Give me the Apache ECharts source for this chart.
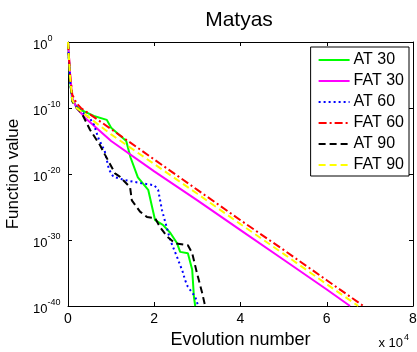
<!DOCTYPE html>
<html>
<head>
<meta charset="utf-8">
<style>
  html, body { margin: 0; padding: 0; background: #fff; }
  #chart { width: 417px; height: 352px; }
</style>
<script src="https://cdn.jsdelivr.net/npm/echarts@6/dist/echarts.min.js"></script>
</head>
<body>
<div id="chart"></div>
<script>
// x = evolution number, e = log10 of function value (y axis is drawn in decades)
const at30X = [0, 500, 1000, 2000, 3000, 6000, 9000, 10000, 13500, 14500, 16200, 18600, 19500, 20200, 22000, 23700, 25300, 26000, 27800, 28800, 29200, 29500];
const at30E = [0, -6, -8.8, -9.8, -10.3, -11.2, -11.8, -13, -15, -17.5, -20.5, -22.4, -25, -27, -27.7, -28.9, -30.5, -31.8, -32, -34.5, -38.6, -40];

const fat30X = [0, 500, 1000, 2000, 4000, 10000, 20000, 30000, 40000, 50000, 60000, 65400];
const fat30E = [0, -5, -8.5, -10, -11.5, -15, -19.6, -24, -28.5, -33, -37.5, -40];

const at60X = [0, 500, 1000, 2000, 3000, 5000, 6000, 7000, 8500, 9500, 10500, 13000, 17000, 20000, 20900, 21800, 23700, 25300, 26700, 27100, 27800, 29500, 30200];
const at60E = [0, -6, -8.8, -9.8, -10.5, -11.5, -12.5, -14.5, -16.5, -19.3, -20.4, -20.9, -21.4, -21.7, -22.4, -25.5, -30, -32.6, -35, -36, -37.1, -38.6, -40];

const fat60X = [0, 500, 1000, 2000, 3000, 10000, 20000, 30000, 40000, 50000, 60000, 68500];
const fat60E = [0, -5, -8, -9.3, -10, -13.2, -17.8, -22.4, -27, -31.5, -36.1, -40];

const at90X = [0, 500, 1000, 2000, 3200, 5100, 7400, 8600, 10900, 12000, 14400, 14800, 16700, 18300, 20200, 21300, 23000, 24800, 27800, 28800, 29900, 31100, 31800];
const at90E = [0, -6, -9, -10, -10.8, -13.3, -15.6, -17.1, -19.9, -20.4, -22, -24, -25.7, -26.5, -26.7, -28, -29.5, -30.5, -30.8, -32, -35, -38, -40];

const fat90X = [0, 500, 1000, 2000, 4000, 10000, 20000, 30000, 40000, 50000, 60000, 67300];
const fat90E = [0, -5.5, -8.8, -10, -11, -14, -18.5, -23, -27.6, -32.1, -36.7, -40];

const seriesNames = ['AT 30', 'FAT 30', 'AT 60', 'FAT 60', 'AT 90', 'FAT 90'];
const xTicks = ['0', '2', '4', '6', '8'];

const toData = (xs, es) => xs.map((x, i) => [x, es[i]]);

const chart = echarts.init(document.getElementById('chart'), null, { renderer: 'canvas' });

const font = 'Arial, "Liberation Sans", Helvetica, sans-serif';

function lineSeries(name, xs, es, color, type) {
  return {
    name: name,
    type: 'line',
    data: toData(xs, es),
    symbol: 'none',
    silent: true,
    animation: false,
    clip: true,
    lineStyle: { color: color, width: 2, type: type },
    itemStyle: { color: color }
  };
}

const labelRich = {
  b: { fontSize: 13, fontFamily: font, color: '#000', padding: [6, 0, 0, 0] },
  s: { fontSize: 9, fontFamily: font, color: '#000', padding: [0, 0, 6, 0] }
};

const frameAxis = {
  axisLine: { onZero: false, lineStyle: { color: '#000', width: 1 } },
  axisTick: { inside: true, length: 4, lineStyle: { color: '#000' } },
  splitLine: { show: false }
};

chart.setOption({
  backgroundColor: '#fff',
  animation: false,
  textStyle: { fontFamily: font },
  grid: { left: 68, right: 4, top: 42, bottom: 46, containLabel: false, outerBoundsMode: 'none' },
  legend: {
    orient: 'vertical',
    right: 8,
    top: 47,
    itemWidth: 31,
    itemHeight: 12,
    itemGap: 5,
    padding: [5, 5, 3, 7],
    borderColor: '#000',
    borderWidth: 1,
    backgroundColor: '#fff',
    itemStyle: { opacity: 0, borderWidth: 0 },
    textStyle: { fontSize: 16, color: '#000', fontFamily: font, padding: [0, 0, 0, -1] },
    data: seriesNames
  },
  xAxis: [Object.assign({
    type: 'value',
    min: 0,
    max: 80000,
    interval: 20000,
    name: 'Evolution number',
    nameLocation: 'middle',
    nameGap: 20,
    nameTextStyle: { fontSize: 18, color: '#000', fontFamily: font },
    axisLabel: {
      margin: 6,
      fontSize: 14,
      color: '#000',
      fontFamily: font,
      formatter: (v) => xTicks[v / 20000]
    }
  }, frameAxis), Object.assign({
    type: 'value',
    position: 'top',
    min: 0,
    max: 80000,
    interval: 20000,
    axisLabel: { show: false }
  }, frameAxis)],
  yAxis: [Object.assign({
    type: 'value',
    min: -40,
    max: 0,
    interval: 10,
    name: 'Function value',
    nameLocation: 'middle',
    nameGap: 40,
    nameTextStyle: { fontSize: 17, color: '#000', fontFamily: font },
    axisLabel: {
      margin: 35,
      align: 'left',
      formatter: (v) => '{b|10}{s|' + v + '}',
      rich: labelRich
    }
  }, frameAxis), Object.assign({
    type: 'value',
    position: 'right',
    min: -40,
    max: 0,
    interval: 10,
    axisLabel: { show: false }
  }, frameAxis)],
  graphic: [{
    type: 'text',
    x: 239,
    y: 10,
    style: {
      text: 'Matyas',
      fontSize: 21,
      fontFamily: font,
      fill: '#000',
      align: 'center'
    }
  }, {
    type: 'text',
    right: 8,
    bottom: 2,
    style: {
      text: '{a|x 10}{s|4}',
      rich: {
        a: { fontSize: 13, fontFamily: font, fill: '#000', padding: [5, 0, 0, 0] },
        s: { fontSize: 9, fontFamily: font, fill: '#000', padding: [0, 0, 6, 1] }
      }
    }
  }],
  series: [
    lineSeries('AT 30', at30X, at30E, '#00ff00', 'solid'),
    lineSeries('FAT 30', fat30X, fat30E, '#ff00ff', 'solid'),
    lineSeries('AT 60', at60X, at60E, '#0000ff', [2, 3]),
    lineSeries('FAT 60', fat60X, fat60E, '#ff0000', [8, 3, 2, 3]),
    lineSeries('AT 90', at90X, at90E, '#000000', [7, 4]),
    lineSeries('FAT 90', fat90X, fat90E, '#ffff00', [7, 4])
  ]
});
</script>
</body>
</html>
